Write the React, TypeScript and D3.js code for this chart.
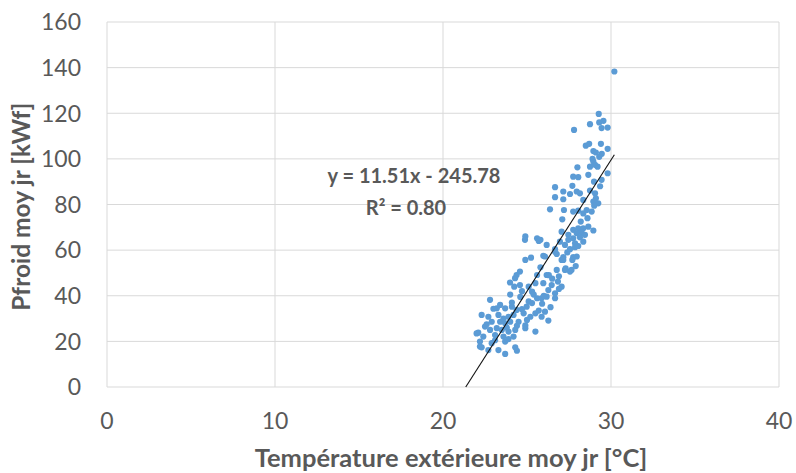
import React from "react";
import * as d3 from "d3";

// daily mean outdoor temperature [°C] vs mean cooling power [kWf]
const tempX = [
  30.2, 29.27, 28.75, 27.8, 29.3, 29.55, 29.44, 29.8, 28.5, 28.7, 29.4, 28.95, 29.1, 29.45, 29.8, 28.9, 29.3,
  28.95, 29.2, 29.05, 28.75, 28.0, 29.8, 28.65, 27.75, 28.05, 29.44, 28.99, 27.7, 26.67, 29.35, 27.16, 27.96,
  28.15, 27.56, 28.75, 29.05, 26.67, 27.16, 29.1, 28.95, 29.24, 28.35, 26.37, 27.2, 27.75, 28.05, 28.55, 28.85,
  28.35, 27.06, 27.75, 28.05, 28.35, 28.65, 28.95, 27.46, 27.96, 28.25, 27.46, 27.75, 28.15, 28.45, 26.96, 27.86,
  28.35, 27.26, 28.05, 26.17, 25.8, 26.67, 27.56, 27.86, 26.77, 27.16, 27.75, 26.07,
  24.88, 24.9, 25.6, 25.24, 25.7, 25.97, 26.67, 27.06, 27.65, 27.96,
  24.58, 24.38, 24.29, 23.99, 24.24, 24.58, 24.9, 25.6, 25.5, 25.3, 25.6, 22.8, 23.2, 23.0, 23.7, 24.1, 24.38,
  24.7, 24.98, 24.8, 25.5, 25.2, 22.3, 22.7, 23.3, 23.9, 24.2, 22.9, 23.4, 23.7, 24.0, 24.5, 25.0, 25.5, 24.9,
  22.5, 22.8, 23.2, 23.5, 23.9, 24.3, 22.1, 22.4, 23.1, 23.6, 24.2, 22.2, 22.3, 22.9, 23.7, 23.3, 23.7, 24.3,
  24.4, 22.7, 22.0, 22.2,
  27.16, 27.7, 26.77, 27.26, 27.56, 26.17, 26.84, 27.06, 25.97, 26.47, 26.27, 26.67, 26.17, 26.67, 25.87, 26.07,
  25.87, 26.27, 27.3, 27.9, 26.5, 26.9, 25.4, 25.1, 24.6, 24.1, 23.6, 23.4, 24.7, 25.9, 26.4, 25.7, 25.3, 24.9,
  23.9, 23.1, 22.6, 24.4, 26.0, 26.9, 27.4, 28.2, 28.6, 29.0, 24.0, 23.8, 25.1, 25.8, 26.3, 27.1,
];
const powerY = [
  138.3, 119.7, 115.2, 112.7, 116.0, 116.7, 113.5, 113.7, 105.8, 106.6, 106.6, 103.4, 102.8, 102.2, 104.4, 100.0, 100.9,
  98.8, 96.6, 97.4, 96.6, 96.3, 93.7, 93.0, 92.2, 92.0, 90.8, 90.0, 88.2, 87.6, 88.0, 85.7, 85.7,
  84.9, 84.6, 86.1, 84.9, 83.2, 82.3, 82.7, 81.3, 80.5, 82.0, 77.9, 77.6, 76.9, 77.3, 77.6, 76.9,
  76.1, 68.1, 68.9, 69.6, 69.6, 70.3, 68.6, 66.7, 67.4, 67.7, 64.5, 65.2, 65.6, 66.7, 63.7, 63.0,
  63.7, 62.3, 61.8, 62.3, 64.5, 60.4, 60.4, 61.3, 58.3, 56.9, 56.9, 57.2,
  64.5, 66.0, 65.2, 56.7, 64.0, 57.5, 59.3, 55.7, 51.3, 57.2,
  50.6, 49.1, 47.7, 45.8, 44.0, 44.7, 55.7, 49.1, 45.5, 41.8, 38.9, 38.2, 34.5, 34.3, 34.5, 35.2, 33.8,
  34.1, 35.2, 32.3, 32.3, 30.8, 31.6, 30.8, 31.6, 30.8, 31.6, 28.6, 28.6, 27.9, 28.6, 28.6, 29.4, 24.3, 25.8,
  26.5, 25.0, 25.8, 25.0, 24.3, 25.0, 23.8, 22.1, 22.8, 22.1, 22.1, 19.9, 17.4, 19.2, 19.9, 16.2, 14.5, 17.4,
  15.9, 16.2, 23.5, 17.7,
  55.7, 55.7, 51.3, 51.3, 50.6, 49.1, 46.2, 44.0, 45.5, 44.7, 42.5, 41.1, 39.6, 38.9, 38.9, 33.0,
  30.8, 29.1, 52.0, 53.0, 47.5, 48.5, 40.5, 37.5, 39.5, 37.0, 30.0, 36.0, 42.0, 36.5, 35.0, 33.5, 36.8, 27.0,
  21.0, 20.5, 27.5, 26.8, 40.0, 43.0, 59.0, 72.5, 74.0, 79.5, 40.5, 26.0, 44.0, 52.5, 49.0, 73.5,
];

const xTicks = [0, 10, 20, 30, 40];
const yTicks = [0, 20, 40, 60, 80, 100, 120, 140, 160];
const slope = 11.51;
const intercept = -245.78;

const W = 796;
const H = 473;
const m = { left: 107, right: 17, top: 22, bottom: 86 };

export default function App() {
  const x = d3.scaleLinear().domain([0, 40]).range([m.left, W - m.right]);
  const y = d3.scaleLinear().domain([0, 160]).range([H - m.bottom, m.top]);

  const xMin = -intercept / slope;
  const xMax = d3.max(tempX) as number;
  const fit = d3.line<number>().x((d) => x(d)).y((d) => y(slope * d + intercept));

  const grey = "#595959";
  const font = "Lato, 'Open Sans', sans-serif";

  return (
    <div style={{ position: "absolute", left: 0, top: 0 }}>
      <svg width={W} height={H} style={{ display: "block", background: "#fff" }}>
        {yTicks.map((t) => (
          <line key={"gy" + t} x1={x(0)} x2={x(40)} y1={y(t)} y2={y(t)} stroke="#d9d9d9" strokeWidth={1} />
        ))}
        {xTicks.map((t) => (
          <line key={"gx" + t} x1={x(t)} x2={x(t)} y1={y(0)} y2={y(160)} stroke="#d9d9d9" strokeWidth={1} />
        ))}

        {tempX.map((t, i) => (
          <circle key={i} cx={x(t)} cy={y(powerY[i])} r={3.1} fill="#5b9bd5" />
        ))}

        <path d={fit([xMin, xMax]) || ""} stroke="#111" strokeWidth={1.1} fill="none" />

        {yTicks.map((t) => (
          <text key={"ty" + t} x={81} y={y(t)} dy="0.36em" textAnchor="end" fontSize={23} fill={grey} fontFamily={font}>
            {t}
          </text>
        ))}
        {xTicks.map((t) => (
          <text key={"tx" + t} x={x(t)} y={429} textAnchor="middle" fontSize={23} fill={grey} fontFamily={font}>
            {t}
          </text>
        ))}

        <text x={451} y={467} textAnchor="middle" fontSize={25.5} fontWeight="bold" fill={grey} fontFamily={font}>
          Température extérieure moy jr [°C]
        </text>
        <text
          transform={`translate(30, ${y(79)}) rotate(-90)`}
          textAnchor="middle"
          fontSize={24.5}
          fontWeight="bold"
          fill={grey}
          fontFamily={font}
        >
          Pfroid moy jr [kWf]
        </text>

        <text x={414} y={183} textAnchor="middle" fontSize={20} fontWeight="bold" fill={grey} fontFamily={font}>
          y = 11.51x - 245.78
        </text>
        <text x={406} y={215} textAnchor="middle" fontSize={20} fontWeight="bold" fill={grey} fontFamily={font}>
          R² = 0.80
        </text>
      </svg>
    </div>
  );
}
